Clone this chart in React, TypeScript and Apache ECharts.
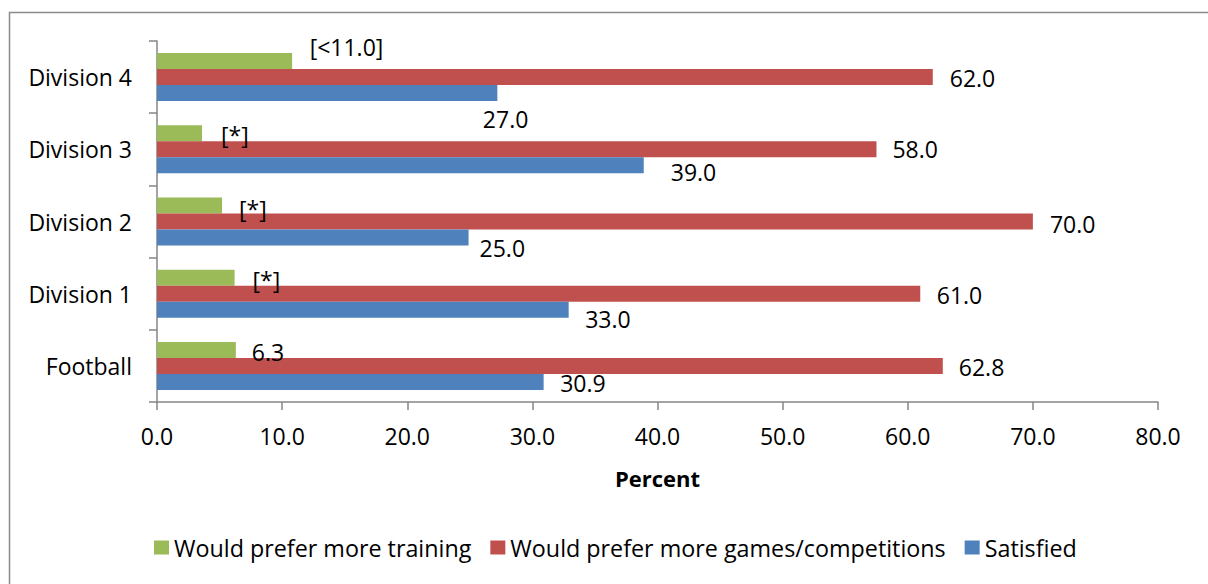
import React, { useEffect, useRef } from "react";
import * as echarts from "echarts";

const categories = ["Football", "Division 1", "Division 2", "Division 3", "Division 4"];
const seriesNames = [
  "Would prefer more training",
  "Would prefer more games/competitions",
  "Satisfied",
];
const trainingValues = [6.3, 6.2, 5.2, 3.6, 10.8];
const gamesValues = [62.8, 61.0, 70.0, 57.5, 62.0];
const satisfiedValues = [30.9, 32.9, 24.9, 38.9, 27.2];
const trainingLabels = ["6.3", "[*]", "[*]", "[*]", "[<11.0]"];
const gamesLabels = ["62.8", "61.0", "70.0", "58.0", "62.0"];
const satisfiedLabels = ["30.9", "33.0", "25.0", "39.0", "27.0"];
const xMin = 0;
const xMax = 80;
const xStep = 10;

// label placement (dx from bar end, dy from bar centre)
const trainingOffsets = [[16, 2], [18, 2], [17, 3], [19, 1.5], [17.5, -14.5]];
const gamesOffsets = [[16, 1], [16.5, 1.5], [17, 2], [16, 0], [17, 0.5]];
const satisfiedOffsets = [[16.5, 1.5], [16.5, 9.5], [11, 10], [27, 7], [-14.5, 26]];

const colors = ["#9BBB59", "#C0504D", "#4F81BD"];
const FONT = "'Open Sans', sans-serif";

function buildData(values: number[], labels: string[], offsets: number[][]) {
  return values.map((v, i) => ({
    value: v,
    label: {
      show: true,
      position: "right",
      distance: 0,
      offset: offsets[i],
      formatter: labels[i],
      color: "#000",
      fontFamily: FONT,
      fontSize: 23,
    },
  }));
}

export default function App() {
  const ref = useRef<HTMLDivElement>(null);
  useEffect(() => {
    document.body.style.margin = "0";
    const chart = echarts.init(ref.current!, undefined, { renderer: "svg" });
    const axisColor = "#868686";
    chart.setOption({
      animation: false,
      backgroundColor: "#fff",
      textStyle: { fontFamily: FONT },
      graphic: [
        {
          type: "rect",
          shape: { x: 9.5, y: 12.5, width: 1400, height: 800 },
          style: { fill: "none", stroke: "#8a8a8a", lineWidth: 1.5 },
          silent: true,
          z: -10,
        },
      ],
      grid: { left: 157, right: 50, top: 41, bottom: 182, containLabel: false },
      legend: {
        left: 149,
        top: 531,
        itemWidth: 15,
        itemHeight: 14,
        itemGap: 19,
        icon: "rect",
        textStyle: { fontFamily: FONT, fontSize: 23.3, color: "#000" },
        data: seriesNames,
      },
      xAxis: {
        type: "value",
        min: xMin,
        max: xMax,
        interval: xStep,
        name: "Percent",
        nameLocation: "middle",
        nameGap: 65,
        nameTextStyle: { fontFamily: FONT, fontSize: 22, fontWeight: "bold", color: "#000" },
        axisLine: { show: true, lineStyle: { color: axisColor, width: 1.5 } },
        axisTick: { show: true, length: 8, lineStyle: { color: axisColor, width: 1.5 } },
        axisLabel: {
          formatter: (v: number) => v.toFixed(1),
          fontFamily: FONT,
          fontSize: 23,
          color: "#000",
          margin: 22,
        },
        splitLine: { show: false },
      },
      yAxis: {
        type: "category",
        data: categories,
        axisLine: { show: true, lineStyle: { color: axisColor, width: 1.5 } },
        axisTick: { show: true, length: 8, lineStyle: { color: axisColor, width: 1.5 } },
        axisLabel: { fontFamily: FONT, fontSize: 23, color: "#000", margin: 25 },
        splitLine: { show: false },
      },
      series: [
        {
          name: seriesNames[0],
          type: "bar",
          barWidth: 16,
          barGap: "0%",
          itemStyle: { color: colors[0] },
          data: buildData(trainingValues, trainingLabels, trainingOffsets),
        },
        {
          name: seriesNames[1],
          type: "bar",
          barWidth: 16,
          barGap: "0%",
          itemStyle: { color: colors[1] },
          data: buildData(gamesValues, gamesLabels, gamesOffsets),
        },
        {
          name: seriesNames[2],
          type: "bar",
          barWidth: 16,
          barGap: "0%",
          itemStyle: { color: colors[2] },
          data: buildData(satisfiedValues, satisfiedLabels, satisfiedOffsets),
        },
      ],
    });
    return () => chart.dispose();
  }, []);
  return <div ref={ref} style={{ width: 1208, height: 584 }} />;
}
